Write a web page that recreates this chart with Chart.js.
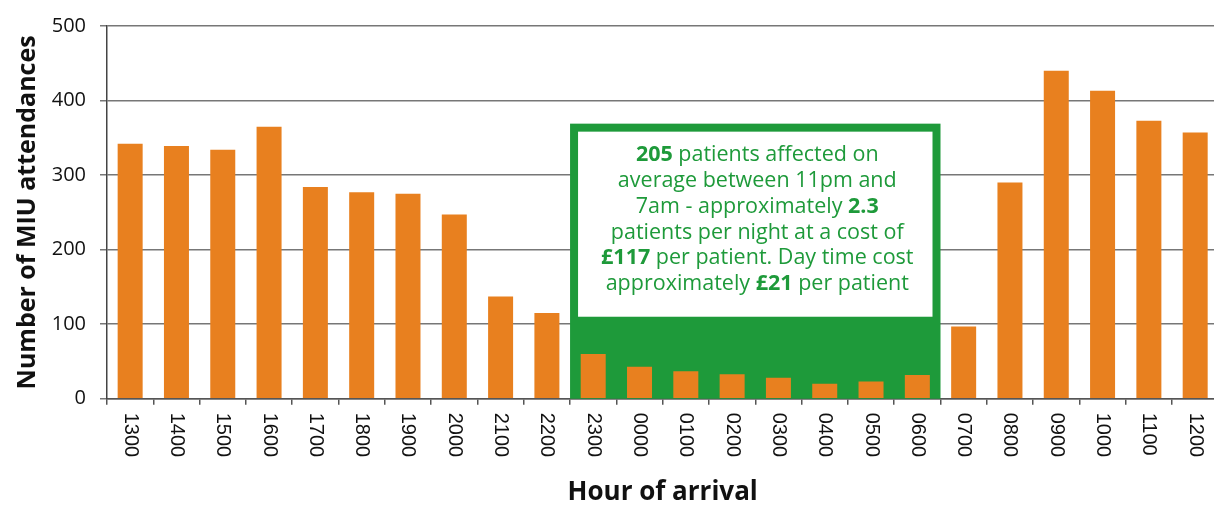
<!DOCTYPE html>
<html>
<head>
<meta charset="utf-8">
<script src="https://cdn.jsdelivr.net/npm/chart.js@4.4.1/dist/chart.umd.min.js"></script>
<style>
  html, body { margin: 0; padding: 0; background: #fff; overflow: hidden; }
  #wrap { width: 1226px; height: 506px; position: relative; }
</style>
</head>
<body>
<div id="wrap"><canvas id="miu-chart"></canvas></div>
<script>
// hours of arrival, starting at 1pm
const hours = ['1300', '1400', '1500', '1600', '1700', '1800', '1900', '2000', '2100', '2200',
               '2300', '0000', '0100', '0200', '0300', '0400', '0500', '0600',
               '0700', '0800', '0900', '1000', '1100', '1200'];
const attendances = [342, 339, 334, 365, 284, 277, 275, 247, 137, 115,
                     60, 43, 37, 33, 28, 20, 23, 32,
                     97, 290, 440, 413, 373, 357];
const yTicks = [0, 100, 200, 300, 400, 500];

// night-time window highlighted by the green box (2300 .. 0600)
const nightStart = '2300';
const nightEnd = '0600';

// annotation text, one array per line, [text, bold]
const noteLines = [
    [['205', true], [' patients affected on', false]],
    [['average between 11pm and', false]],
    [['7am - approximately ', false], ['2.3', true]],
    [['patients per night at a cost of', false]],
    [['£117', true], [' per patient. Day time cost', false]],
    [['approximately ', false], ['£21', true], [' per patient', false]]
];

const orange = '#E8801F';
const green = '#1E9A3A';
const textFont = '"Open Sans", "Noto Sans", sans-serif';

// green box behind the night bars, with the white note panel on top
const nightBox = {
    id: 'nightBox',
    beforeDatasetsDraw(chart) {
        const ctx = chart.ctx;
        const x = chart.scales.x;
        const y = chart.scales.y;
        const half = (x.getPixelForTick(1) - x.getPixelForTick(0)) / 2;
        const left = x.getPixelForValue(hours.indexOf(nightStart)) - half;
        const right = x.getPixelForValue(hours.indexOf(nightEnd)) + half;
        const top = y.getPixelForValue(369);
        const bottom = y.getPixelForValue(0);
        const panelBottom = y.getPixelForValue(110);
        const border = 8;

        ctx.save();
        ctx.fillStyle = green;
        ctx.fillRect(left, top, right - left, bottom - top);
        ctx.fillStyle = '#fff';
        ctx.fillRect(left + border, top + border, right - left - 2 * border, panelBottom - top - border);

        ctx.fillStyle = green;
        ctx.textBaseline = 'middle';
        const cx = (left + right) / 2 + 2;
        const lineH = 25.8;
        let ly = top + 31.5;
        noteLines.forEach(line => {
            let total = 0;
            line.forEach(([t, b]) => {
                ctx.font = (b ? 'bold ' : '') + '21.5px ' + textFont;
                total += ctx.measureText(t).width;
            });
            let lx = cx - total / 2;
            line.forEach(([t, b]) => {
                ctx.font = (b ? 'bold ' : '') + '21.5px ' + textFont;
                ctx.textAlign = 'left';
                ctx.fillText(t, lx, ly);
                lx += ctx.measureText(t).width;
            });
            ly += lineH;
        });
        ctx.restore();
    }
};

// x labels read top-to-bottom, so draw them ourselves
const xLabels = {
    id: 'xLabels',
    afterDraw(chart) {
        const ctx = chart.ctx;
        const x = chart.scales.x;
        const y0 = chart.chartArea.bottom + 14;
        ctx.save();
        ctx.fillStyle = '#111';
        ctx.font = '20px "Liberation Sans", Arial, sans-serif';
        ctx.textAlign = 'left';
        ctx.textBaseline = 'middle';
        hours.forEach((h, i) => {
            ctx.save();
            ctx.translate(x.getPixelForTick(i), y0);
            ctx.rotate(Math.PI / 2);
            ctx.fillText(h, 0, 0);
            ctx.restore();
        });
        ctx.restore();
    }
};

new Chart(document.getElementById('miu-chart'), {
    type: 'bar',
    data: {
        labels: hours,
        datasets: [{
            label: 'Number of MIU attendances',
            data: attendances,
            backgroundColor: orange,
            borderWidth: 0,
            barPercentage: 0.6,
            categoryPercentage: 0.9
        }]
    },
    options: {
        responsive: true,
        maintainAspectRatio: false,
        animation: false,
        layout: { padding: { top: 19, right: 1, left: 13, bottom: 0 } },
        plugins: {
            legend: { display: false },
            tooltip: { enabled: false }
        },
        scales: {
            x: {
                grid: {
                    drawOnChartArea: false,
                    offset: true,
                    tickLength: 6,
                    color: '#555',
                    lineWidth: 1.5
                },
                border: { color: '#555', width: 1.5 },
                ticks: {
                    color: 'rgba(0,0,0,0)',
                    font: { size: 19, family: '"Liberation Sans", Arial, sans-serif' },
                    minRotation: 90,
                    maxRotation: 90,
                    padding: 8
                },
                title: {
                    display: true,
                    text: 'Hour of arrival',
                    color: '#111',
                    font: { size: 26, weight: 'bold', family: textFont, lineHeight: 1.0 },
                    padding: { top: 17, bottom: 0 }
                }
            },
            y: {
                min: 0,
                max: 500,
                afterBuildTicks(scale) {
                    scale.ticks = yTicks.map(v => ({ value: v }));
                },
                afterFit(scale) {
                    scale.width = 94;
                },
                grid: {
                    color: '#777',
                    lineWidth: 1.5,
                    tickLength: 7
                },
                border: { color: '#444', width: 1.5 },
                ticks: {
                    color: '#111',
                    font: { size: 20, family: textFont },
                    padding: 14
                },
                title: {
                    display: true,
                    text: 'Number of MIU attendances',
                    color: '#111',
                    font: { size: 25, weight: 'bold', family: textFont },
                    padding: { top: 0, bottom: 6 }
                }
            }
        }
    },
    plugins: [nightBox, xLabels]
});
</script>
</body>
</html>
